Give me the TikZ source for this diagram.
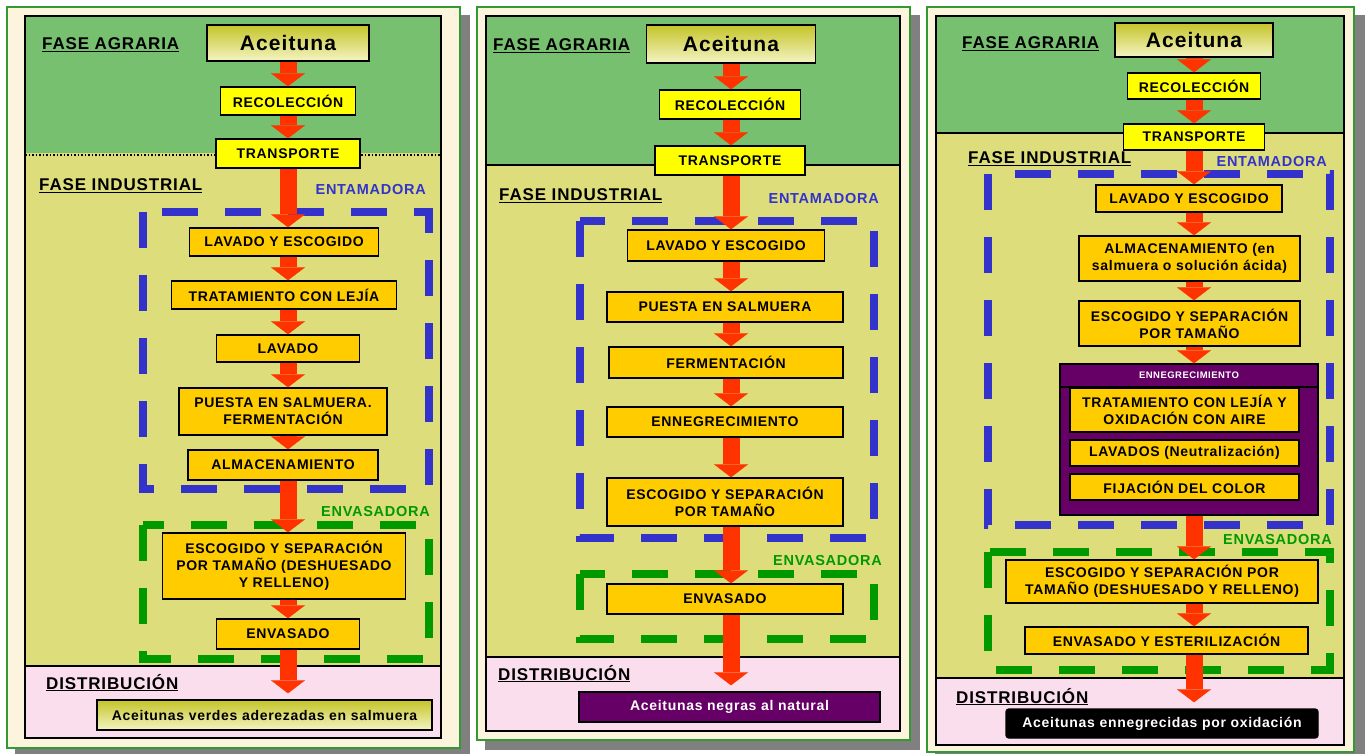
\documentclass[tikz,border=0pt]{standalone}
\usepackage{fontspec}
\setmainfont{Liberation Sans}[LetterSpace=5]
\usepackage{tikz}
\usetikzlibrary{arrows.meta,positioning,calc}
\definecolor{agrgreen}{RGB}{118,192,112}
\definecolor{indyellow}{RGB}{221,221,124}
\definecolor{distpink}{RGB}{250,222,238}
\definecolor{cardbeige}{RGB}{253,244,222}
\definecolor{cardgreen}{RGB}{51,153,51}
\definecolor{boxorange}{RGB}{255,204,0}
\definecolor{boxyellow}{RGB}{255,255,0}
\definecolor{flowred}{RGB}{255,51,0}
\definecolor{entblue}{RGB}{51,51,204}
\definecolor{envgreen}{RGB}{0,153,0}
\definecolor{olivepurple}{RGB}{102,0,102}
\definecolor{olivetop}{RGB}{196,196,40}
\definecolor{olivemid}{RGB}{228,228,140}
\definecolor{olivebot}{RGB}{244,244,196}
\tikzstyle{stepbox}=[draw=black,line width=1.4pt,fill=boxorange,align=center,inner sep=0pt,font=\fontsize{14}{17}\selectfont\bfseries]
\tikzstyle{pickbox}=[stepbox,fill=boxyellow]
\tikzstyle{seedbox}=[stepbox,top color=olivetop,middle color=olivemid,bottom color=olivebot,font=\fontsize{21}{24}\selectfont\bfseries]
\tikzstyle{outbox}=[stepbox,text=white]
\tikzstyle{phase}=[anchor=base west,inner sep=0pt,font=\fontsize{17}{20}\selectfont\bfseries]
\tikzstyle{zone}=[anchor=base east,inner sep=0pt,font=\fontsize{14.5}{17}\selectfont\bfseries]
\tikzstyle{flow}=[draw=flowred,line width=17pt,-{Triangle[length=13pt,width=34pt,line width=0.1pt]}]
\tikzstyle{entdash}=[draw=entblue,line width=8pt,dash pattern=on 36pt off 27pt]
\tikzstyle{envdash}=[entdash,draw=envgreen]
\tikzstyle{card}=[fill=cardbeige,draw=cardgreen,line width=1.5pt]

\begin{document}
\begin{tikzpicture}[x=1pt,y=-1pt]
\useasboundingbox (0,0) rectangle (1365,754);
\fill[white] (0,0) rectangle (1365,754);

% cards
\fill[black!50] (15,15) rectangle (470,756);
\draw[card] (7,7) rectangle (460,748);
\fill[black!50] (485,15) rectangle (920,750);
\draw[card] (477,7) rectangle (910,740);
\fill[black!50] (935,15) rectangle (1365,760);
\draw[card] (927,7) rectangle (1354,752);

% phases, panel 1
\fill[agrgreen] (25,16) rectangle (441,153);
\fill[indyellow] (25,153) rectangle (441,666);
\fill[distpink] (25,666) rectangle (441,738);
\draw[line width=1.5pt] (25,16) rectangle (441,738);
\draw[line width=1.5pt,dotted] (25,155) -- (441,155);
\draw[line width=2pt] (25,666) -- (441,666);
% phases, panel 2
\fill[agrgreen] (486,16) rectangle (900,165);
\fill[indyellow] (486,165) rectangle (900,657);
\fill[distpink] (486,657) rectangle (900,731);
\draw[line width=1.5pt] (486,16) rectangle (900,731);
\draw[line width=2pt] (486,165) -- (900,165);
\draw[line width=2pt] (486,657) -- (900,657);
% phases, panel 3
\fill[agrgreen] (936,16) rectangle (1344,133);
\fill[indyellow] (936,133) rectangle (1344,678);
\fill[distpink] (936,678) rectangle (1344,745);
\draw[line width=1.5pt] (936,16) rectangle (1344,745);
\draw[line width=2pt] (936,133) -- (1344,133);
\draw[line width=2pt] (936,678) -- (1344,678);

% dashed zones
\draw[entdash] (143,212) rectangle (429,489);
\draw[envdash] (143,525) rectangle (429,659);
\draw[entdash] (580,221) rectangle (874,538);
\draw[envdash] (580,574) rectangle (874,639);
\draw[entdash] (988,174) rectangle (1330,525);
\draw[envdash] (988,552) rectangle (1330,670);

% labels
\node[phase] (fa1) at (42,50) {\underline{FASE AGRARIA}};
\node[phase] (fi1) at (39,191) {\underline{FASE INDUSTRIAL}};
\node[phase] (di1) at (46,689) {\underline{DISTRIBUCIÓN}};
\node[zone,text=entblue] (za1) at (426,195) {ENTAMADORA};
\node[zone,text=envgreen] (zb1) at (430,516) {ENVASADORA};
\node[phase] (fa2) at (493,51) {\underline{FASE AGRARIA}};
\node[phase] (fi2) at (499,201) {\underline{FASE INDUSTRIAL}};
\node[phase] (di2) at (498,680) {\underline{DISTRIBUCIÓN}};
\node[zone,text=entblue] (za2) at (879,204) {ENTAMADORA};
\node[zone,text=envgreen] (zb2) at (882,565) {ENVASADORA};
\node[phase] (fa3) at (962,49) {\underline{FASE AGRARIA}};
\node[phase] (fi3) at (968,164) {\underline{FASE INDUSTRIAL}};
\node[phase] (di3) at (956,703) {\underline{DISTRIBUCIÓN}};
\node[zone,text=entblue] (za3) at (1327,167) {ENTAMADORA};
\node[zone,text=envgreen] (zb3) at (1332,544) {ENVASADORA};

% panel 1: aceitunas verdes
\node[seedbox,minimum width=162pt,minimum height=36pt] (ac1) at (288,43) {Aceituna};
\node[pickbox,minimum width=135pt,minimum height=28pt] (rec1) at (288,101) {RECOLECCIÓN};
\node[pickbox,minimum width=144pt,minimum height=29pt] (tra1) at (288,153.5) {TRANSPORTE};
\node[stepbox,minimum width=189pt,minimum height=28pt] (lav1) at (284,242) {LAVADO Y ESCOGIDO};
\node[stepbox,minimum width=225pt,minimum height=28pt] (tre1) at (284,295) {TRATAMIENTO CON LEJÍA};
\node[stepbox,minimum width=143pt,minimum height=27pt] (lvd1) at (288,348.5) {LAVADO};
\node[stepbox,minimum width=208pt,minimum height=47pt] (pue1) at (283,411.5) {PUESTA EN SALMUERA.\\FERMENTACIÓN};
\node[stepbox,minimum width=190pt,minimum height=30pt] (alm1) at (283,465) {ALMACENAMIENTO};
\node[stepbox,minimum width=243pt,minimum height=66pt] (esc1) at (284,566) {ESCOGIDO Y SEPARACIÓN\\POR TAMAÑO (DESHUESADO\\Y RELLENO)};
\node[stepbox,minimum width=143pt,minimum height=30pt] (env1) at (288,634) {ENVASADO};
\node[seedbox,font=\fontsize{14}{17}\selectfont\bfseries,minimum width=335pt,minimum height=30pt] (res1) at (264.5,715) {Aceitunas verdes aderezadas en salmuera};

% panel 2: aceitunas negras
\node[seedbox,minimum width=169pt,minimum height=38pt] (ac2) at (731,44) {Aceituna};
\node[pickbox,minimum width=141pt,minimum height=29pt] (rec2) at (730,104.5) {RECOLECCIÓN};
\node[pickbox,minimum width=150pt,minimum height=29pt] (tra2) at (730,160.5) {TRANSPORTE};
\node[stepbox,minimum width=197pt,minimum height=31pt] (lav2) at (726,245.5) {LAVADO Y ESCOGIDO};
\node[stepbox,minimum width=236pt,minimum height=30pt] (pue2) at (725,307) {PUESTA EN SALMUERA};
\node[stepbox,minimum width=234pt,minimum height=31pt] (fer2) at (726,362.5) {FERMENTACIÓN};
\node[stepbox,minimum width=236pt,minimum height=30pt] (enn2) at (725,422) {ENNEGRECIMIENTO};
\node[stepbox,minimum width=236pt,minimum height=48pt] (esc2) at (725,502) {ESCOGIDO Y SEPARACIÓN\\POR TAMAÑO};
\node[stepbox,minimum width=236pt,minimum height=30pt] (env2) at (725,599) {ENVASADO};
\node[outbox,fill=olivepurple,minimum width=301pt,minimum height=30pt] (res2) at (729.5,707) {Aceitunas negras al natural};

% panel 3: aceitunas ennegrecidas
\node[seedbox,minimum width=158pt,minimum height=34pt] (ac3) at (1194,40) {Aceituna};
\node[pickbox,minimum width=133pt,minimum height=26pt] (rec3) at (1194,86) {RECOLECCIÓN};
\node[pickbox,minimum width=141pt,minimum height=26pt] (tra3) at (1194,137) {TRANSPORTE};
\node[stepbox,minimum width=186pt,minimum height=27pt] (lav3) at (1189,198.5) {LAVADO Y ESCOGIDO};
\node[stepbox,minimum width=221pt,minimum height=45pt] (alm3) at (1189.5,258.5) {ALMACENAMIENTO (en\\salmuera o solución ácida)};
\node[stepbox,minimum width=221pt,minimum height=45pt] (esc3) at (1189.5,323.5) {ESCOGIDO Y SEPARACIÓN\\POR TAMAÑO};
\node[stepbox,fill=olivepurple,minimum width=258pt,minimum height=151pt] (grp3) at (1189,439.5) {};
\node[outbox,fill=olivepurple,font=\fontsize{9.5}{11}\selectfont\bfseries,minimum width=258pt,minimum height=23pt] (hdr3) at (1189,375.5) {ENNEGRECIMIENTO};
\node[stepbox,minimum width=229pt,minimum height=44pt] (tre3) at (1184.5,410) {TRATAMIENTO CON LEJÍA Y\\OXIDACIÓN CON AIRE};
\node[stepbox,minimum width=229pt,minimum height=26pt] (lvs3) at (1184.5,453) {LAVADOS (Neutralización)};
\node[stepbox,minimum width=229pt,minimum height=26pt] (fij3) at (1184.5,487) {FIJACIÓN DEL COLOR};
\node[stepbox,minimum width=312pt,minimum height=43pt] (esc3b) at (1162,581.5) {ESCOGIDO Y SEPARACIÓN POR\\TAMAÑO (DESHUESADO Y RELLENO)};
\node[stepbox,minimum width=283pt,minimum height=27pt] (env3) at (1166.5,640.5) {ENVASADO Y ESTERILIZACIÓN};
\node[outbox,fill=black,rounded corners=3pt,minimum width=312pt,minimum height=29pt] (res3) at (1162,723.5) {Aceitunas ennegrecidas por oxidación};

% flow arrows
\foreach \a/\b in {ac1/rec1,rec1/tra1,tra1/lav1,lav1/tre1,tre1/lvd1,lvd1/pue1,pue1/alm1,alm1/esc1,esc1/env1}
  \draw[flow] (ac1.south |- \a.south) -- (ac1.south |- \b.north);
\draw[flow,shorten >=6pt] (ac1.south |- env1.south) -- (ac1.south |- res1.north);
\foreach \a/\b in {ac2/rec2,rec2/tra2,tra2/lav2,lav2/pue2,pue2/fer2,fer2/enn2,enn2/esc2,esc2/env2}
  \draw[flow] (ac2.south |- \a.south) -- (ac2.south |- \b.north);
\draw[flow,shorten >=6pt] (ac2.south |- env2.south) -- (ac2.south |- res2.north);
\foreach \a/\b in {ac3/rec3,rec3/tra3,tra3/lav3,lav3/alm3,alm3/esc3,esc3/hdr3,grp3/esc3b,esc3b/env3}
  \draw[flow] (ac3.south |- \a.south) -- (ac3.south |- \b.north);
\draw[flow,shorten >=6pt] (ac3.south |- env3.south) -- (ac3.south |- res3.north);
\end{tikzpicture}
\end{document}
